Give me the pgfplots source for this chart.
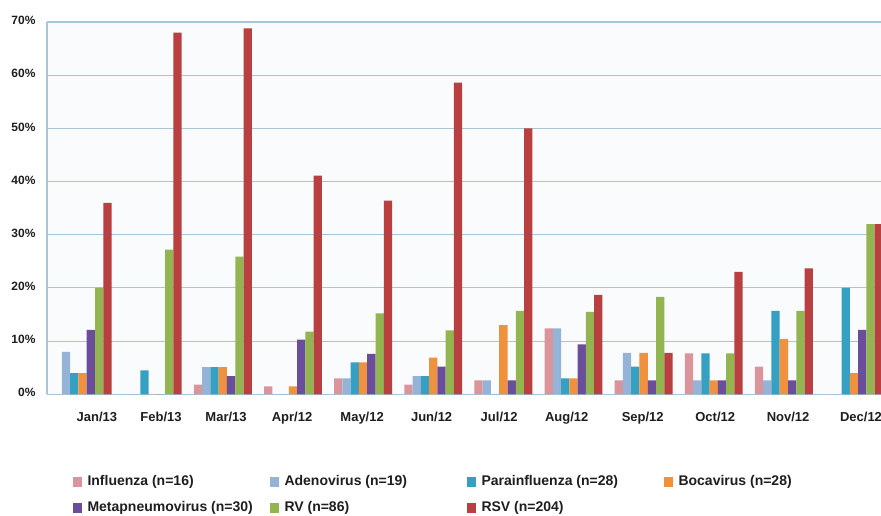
\documentclass[border=0pt]{standalone}
\usepackage{pgfplots}
\usepackage{pgfplotstable}
\pgfplotsset{compat=1.18}
\usepackage{fontspec}
\setmainfont{Liberation Sans}
\definecolor{cInfl}{HTML}{D9959B}
\definecolor{cAdeno}{HTML}{95B3D7}
\definecolor{cPara}{HTML}{36A0C2}
\definecolor{cBoca}{HTML}{F0923D}
\definecolor{cMeta}{HTML}{6A4E9C}
\definecolor{cRV}{HTML}{92B552}
\definecolor{cRSV}{HTML}{B84040}
\definecolor{gridc}{HTML}{A8C6D6}
\definecolor{bgc}{HTML}{FAFBFD}
\definecolor{txt}{HTML}{1E1E1E}

\pgfplotstableread{
x infl adeno para boca metap rv rsv
0 0 8.0 4.0 4.0 12.1 20.0 36.0
1 0 0 4.5 0 0 27.2 68.0
2 1.8 5.1 5.1 5.1 3.4 25.9 68.8
3 1.5 0 0 1.5 10.3 11.8 41.1
4 3.0 3.0 6.0 6.0 7.6 15.2 36.4
5 1.8 3.4 3.4 6.9 5.2 12.0 58.6
6 2.6 2.6 0 13.0 2.6 15.7 50.0
7 12.4 12.4 3.0 3.0 9.4 15.5 18.7
8 2.6 7.8 5.2 7.8 2.6 18.3 7.8
9 7.7 2.6 7.7 2.6 2.6 7.7 23.0
10 5.2 2.6 15.7 10.4 2.6 15.7 23.7
11 0 0 20.0 4.0 12.1 32.0 32.0
}\datatable

\begin{document}
\begin{tikzpicture}
\fill[white] (0,0) rectangle (881pt,515pt);
\begin{axis}[
  at={(47pt,120.7pt)}, anchor=south west,
  scale only axis, width=834pt, height=372.3pt,
  xmin=-0.5076, xmax=11.385, ymin=0, ymax=70,
  ybar=0pt, bar width=8.27pt,
  axis background/.style={fill=bgc},
  axis x line*=bottom, axis y line*=left,
  axis line style={draw=gridc, line width=1.2pt},
  major tick length=0pt,
  ymajorgrids, grid style={draw=gridc, line width=1.1pt},
  ytick={0,10,20,30,40,50,60,70},
  yticklabels={0\%,10\%,20\%,30\%,40\%,50\%,60\%,70\%},
  yticklabel style={font=\fontsize{12}{14}\selectfont\bfseries, text=txt, xshift=-8pt, yshift=1.5pt},
  xtick={0.205,1.118,2.046,2.987,3.986,4.977,5.94,6.903,7.987,9.021,10.06,11.10},
  xticklabels={Jan/13,Feb/13,Mar/13,Apr/12,May/12,Jun/12,Jul/12,Aug/12,Sep/12,Oct/12,Nov/12,Dec/12},
  xticklabel style={font=\fontsize{13}{15}\selectfont\bfseries, text=txt, yshift=-14pt},
  legend columns=4,
  legend cell align=left,
  legend style={draw=none, fill=none, inner sep=0pt, outer sep=0pt,
    at={(0.0312,-0.2168)}, anchor=north west,
    font=\fontsize{14}{16}\selectfont\bfseries, text=txt,
    nodes={inner sep=0pt, text height=10pt, text depth=3pt},
    row sep=13.7pt,
    /tikz/every odd column/.append style={column sep=6pt}},
  legend image code/.code={\fill[#1] (0pt,-5pt) rectangle (8.5pt,5pt);},
]
\addplot[fill=cInfl, draw=none] table[x=x,y=infl] {\datatable};
\addlegendentry{\makebox[182.5pt][l]{Influenza (n=16)}}
\addplot[fill=cAdeno, draw=none] table[x=x,y=adeno] {\datatable};
\addlegendentry{\makebox[182.5pt][l]{Adenovirus (n=19)}}
\addplot[fill=cPara, draw=none] table[x=x,y=para] {\datatable};
\addlegendentry{\makebox[182.5pt][l]{Parainfluenza (n=28)}}
\addplot[fill=cBoca, draw=none] table[x=x,y=boca] {\datatable};
\addlegendentry{\makebox[182.5pt][l]{Bocavirus (n=28)}}
\addplot[fill=cMeta, draw=none] table[x=x,y=metap] {\datatable};
\addlegendentry{\makebox[182.5pt][l]{Metapneumovirus (n=30)}}
\addplot[fill=cRV, draw=none] table[x=x,y=rv] {\datatable};
\addlegendentry{\makebox[182.5pt][l]{RV (n=86)}}
\addplot[fill=cRSV, draw=none] table[x=x,y=rsv] {\datatable};
\addlegendentry{\makebox[182.5pt][l]{RSV (n=204)}}
\end{axis}
\pgfresetboundingbox
\useasboundingbox (0,0) rectangle (881pt,515pt);
\end{tikzpicture}
\end{document}
